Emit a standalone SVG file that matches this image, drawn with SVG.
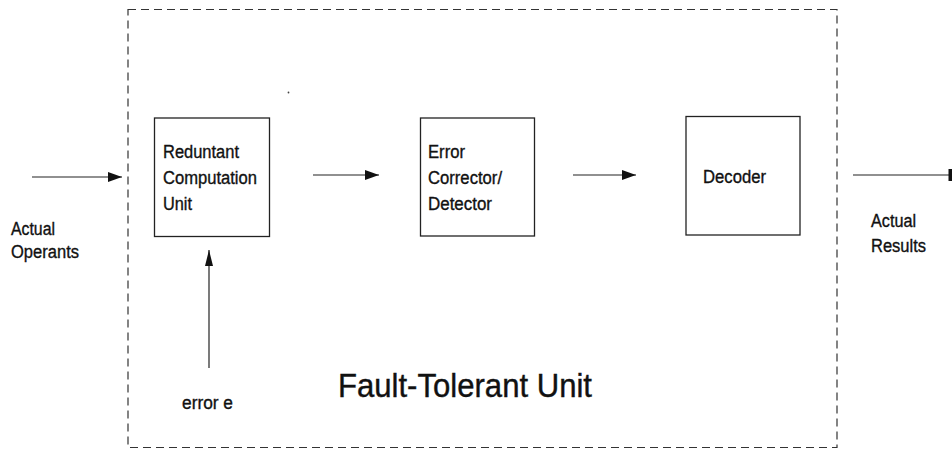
<svg xmlns="http://www.w3.org/2000/svg" width="952" height="450" viewBox="0 0 952 450">
  <style>
    .box { fill: #fff; stroke: #222; stroke-width: 1.3; }
    .frame { fill: none; stroke: #333; stroke-width: 1.2; stroke-dasharray: 8 5; }
    .wire { fill: none; stroke: #222; stroke-width: 1.2; }
    .lbl { font-family: "Liberation Sans", Arial, sans-serif; font-size: 18px; fill: #111; stroke: #111; stroke-width: 0.35; }
    .big { font-family: "Liberation Sans", Arial, sans-serif; font-size: 33px; fill: #111; stroke: #111; stroke-width: 0.4; }
  </style>
  <defs>
    <marker id="arrow" viewBox="0 0 14 10" refX="14" refY="5" markerWidth="14" markerHeight="10" markerUnits="userSpaceOnUse" orient="auto">
      <path d="M0,0 L14,5 L0,10 Z" fill="#111"/>
    </marker>
    <marker id="arrowUp" viewBox="0 0 16 8" refX="16" refY="4" markerWidth="16" markerHeight="8" markerUnits="userSpaceOnUse" orient="auto">
      <path d="M0,0 L16,4 L0,8 Z" fill="#111"/>
    </marker>
  </defs>

  <!-- enclosing fault-tolerant unit -->
  <g id="fault-tolerant-unit">
    <rect class="frame" x="128" y="9.5" width="709" height="438"/>
    <text class="big" x="338" y="397" textLength="254" lengthAdjust="spacingAndGlyphs">Fault-Tolerant Unit</text>
  </g>

  <!-- processing stages -->
  <g id="redundant-computation">
    <rect class="box" x="154.5" y="118" width="115" height="118.5"/>
    <text class="lbl" x="163" y="158" textLength="76" lengthAdjust="spacingAndGlyphs">Reduntant</text>
    <text class="lbl" x="163" y="184" textLength="94" lengthAdjust="spacingAndGlyphs">Computation</text>
    <text class="lbl" x="163" y="210" textLength="29" lengthAdjust="spacingAndGlyphs">Unit</text>
  </g>
  <g id="error-corrector">
    <rect class="box" x="420.5" y="118" width="114" height="118"/>
    <text class="lbl" x="428" y="158" textLength="37" lengthAdjust="spacingAndGlyphs">Error</text>
    <text class="lbl" x="428" y="184" textLength="74" lengthAdjust="spacingAndGlyphs">Corrector/</text>
    <text class="lbl" x="428" y="210" textLength="64" lengthAdjust="spacingAndGlyphs">Detector</text>
  </g>
  <g id="decoder">
    <rect class="box" x="686" y="116.5" width="114" height="118.5"/>
    <text class="lbl" x="703" y="183" textLength="63" lengthAdjust="spacingAndGlyphs">Decoder</text>
  </g>

  <!-- outside labels -->
  <g id="operands">
    <text class="lbl" x="11" y="235" textLength="44" lengthAdjust="spacingAndGlyphs">Actual</text>
    <text class="lbl" x="11" y="258" textLength="68" lengthAdjust="spacingAndGlyphs">Operants</text>
  </g>
  <g id="results">
    <text class="lbl" x="871" y="227" textLength="45" lengthAdjust="spacingAndGlyphs">Actual</text>
    <text class="lbl" x="871" y="252" textLength="55" lengthAdjust="spacingAndGlyphs">Results</text>
  </g>
  <g id="error-input">
    <text class="lbl" x="182" y="409" textLength="51" lengthAdjust="spacingAndGlyphs">error e</text>
  </g>

  <!-- connectors -->
  <g id="connectors">
    <line class="wire" x1="32" y1="177" x2="122" y2="177" marker-end="url(#arrow)"/>
    <line class="wire" x1="313" y1="175" x2="379" y2="175" marker-end="url(#arrow)"/>
    <line class="wire" x1="573" y1="175" x2="636" y2="175" marker-end="url(#arrow)"/>
    <line class="wire" x1="853" y1="175" x2="950" y2="175"/>
    <rect x="948.5" y="169" width="3.5" height="12" fill="#111"/>
    <line class="wire" x1="209" y1="368" x2="209" y2="250" marker-end="url(#arrowUp)"/>
  </g>

  <!-- small stray mark in the frame -->
  <circle cx="288.5" cy="92.5" r="0.9" fill="#444"/>
</svg>
